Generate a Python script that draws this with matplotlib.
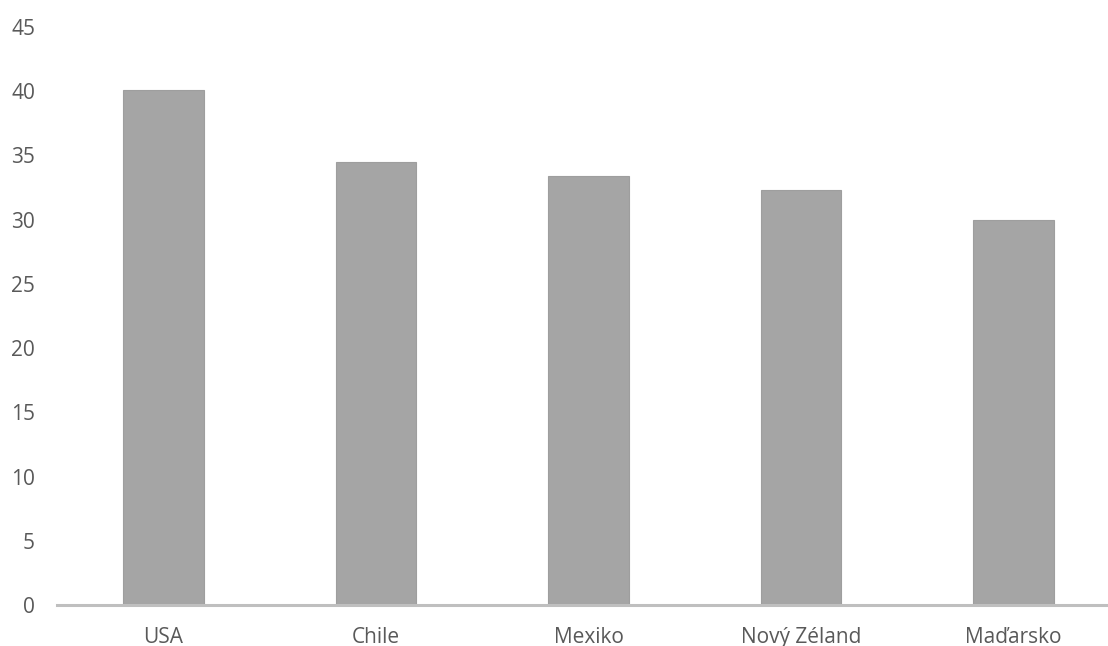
import numpy as np
import matplotlib
matplotlib.use("Agg")
import matplotlib.pyplot as plt

countries = ["USA", "Chile", "Mexiko", "Nový Zéland", "Maďarsko"]
values = [40.1, 34.5, 33.4, 32.3, 30.0]
yticks = [0, 5, 10, 15, 20, 25, 30, 35, 40, 45]

plt.rcParams['font.family'] = ['Open Sans', 'DejaVu Sans']

W, H = 1108, 646
fig = plt.figure(figsize=(W / 100, H / 100), dpi=100)

# plot area in pixels: x 57..1120 (runs off the right edge), y 27..605
left, right = 57.25, 1119.75
top, bottom = 27, 605
ax = fig.add_axes([left / W, (H - bottom) / H, (right - left) / W, (bottom - top) / H])

x = np.arange(len(countries))
ax.bar(x, values, width=0.38, color="#A5A5A5", edgecolor="#9E9E9E", linewidth=0.8, zorder=2)

ax.set_xlim(-0.5, len(countries) - 0.5)
ax.set_ylim(0, 45)
ax.set_yticks(yticks)
ax.set_xticks(x)
ax.set_xticklabels(countries)

for s in ["top", "right", "left"]:
    ax.spines[s].set_visible(False)
ax.spines["bottom"].set_color("#BFBFBF")
ax.spines["bottom"].set_linewidth(2.2)
ax.spines["bottom"].set_zorder(3)

ax.tick_params(axis="both", length=0, colors="#595959", labelsize=15)
ax.tick_params(axis="y", pad=16)
ax.tick_params(axis="x", pad=16)

fig.savefig("out.png", dpi=100)
